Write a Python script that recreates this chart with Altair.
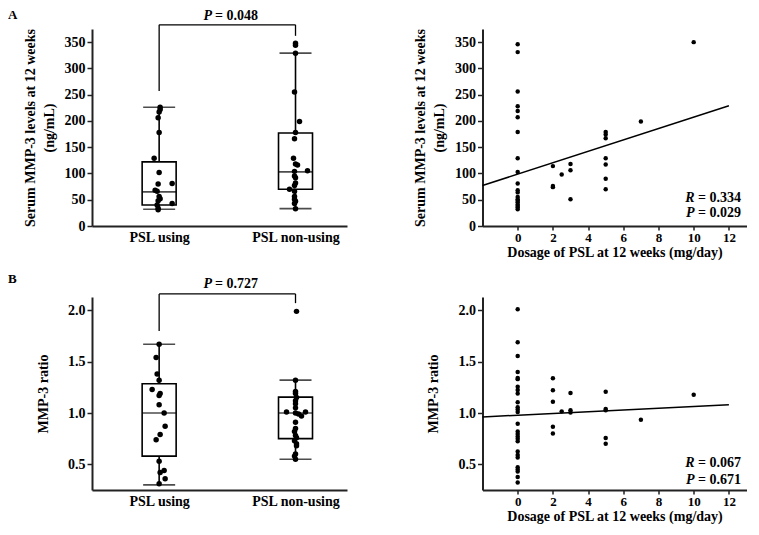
import altair as alt
import pandas as pd

FONT = "Liberation Serif"
groups = ["PSL using", "PSL non-using"]

# ---------- Panel A (box plot): serum MMP-3 at 12 weeks ----------
a_using = [226, 222, 217, 206, 178, 129, 102, 81, 80, 68, 66, 56, 52, 48, 43, 40, 34, 31]
a_using_dx = [1, 1, 0, -1, 0, -5, 0, 13, -1, -4, -2, 0, 1, -1, 13, -2, -1, -1]
a_nonusing = [348, 344, 329, 255, 199, 178, 166, 129, 118, 116, 105, 104, 95, 92, 82, 77, 70, 66, 56, 51, 47, 43, 33]
a_nonusing_dx = [0, 0, 0, -1, 4, 0, -1, -2, 0, 2, 12, -1, -1, 0, 0, -1, -6, -1, -1, -1, 0, -1, 0]
a_lo = [32, 33]
a_q1 = [40, 70]
a_med = [65, 103]
a_q3 = [122, 177]
a_hi = [226, 329]
a_bracket_low = [257, 362]
a_bracket_top = [383, 383]

# ---------- Panel A (scatter): dose vs serum MMP-3 ----------
a_dose = [0, 0, 0, 0, 0, 0, 0, 0, 0, 0, 0, 0, 0, 0, 0, 0, 0, 0, 0, 0,
          2, 2, 2, 2.5, 3, 3, 3, 5, 5, 5, 5, 5, 5, 5, 7, 10]
a_mmp = [346, 331, 256, 228, 219, 207, 179, 129, 103, 81, 68, 64, 55, 51, 48, 45, 41, 38, 35, 32,
         114, 76, 74, 98, 118, 106, 51, 179, 174, 167, 129, 117, 90, 70, 199, 350]
line_x = [-2, 12]
a_line_y = [77, 229]

# ---------- Panel B (box plot): MMP-3 ratio ----------
b_using = [1.67, 1.54, 1.38, 1.32, 1.23, 1.19, 1.17, 1.08, 1.00, 0.87, 0.79, 0.74, 0.53, 0.44, 0.42, 0.36, 0.31]
b_using_dx = [0, -3, -2, 0, -7, 1, 0, 0, 5, 6, 1, -3, 0, 5, 1, 6, 0]
b_nonusing = [1.99, 1.32, 1.21, 1.19, 1.15, 1.12, 1.09, 1.05, 1.01, 1.01, 1.00, 0.99, 0.97, 0.91, 0.85, 0.82, 0.78, 0.76, 0.73, 0.70, 0.68, 0.60, 0.58, 0.55]
b_nonusing_dx = [1, 0, 0, 0, 1, 0, 0, 0, -9, 10, 0, 3, 6, 0, 0, -1, 0, 1, -1, 1, 1, 0, -1, 0]
b_lo = [0.30, 0.55]
b_q1 = [0.58, 0.75]
b_med = [1.00, 1.00]
b_q3 = [1.285, 1.155]
b_hi = [1.67, 1.32]
b_bracket_low = [1.80, 2.07]
b_bracket_top = [2.16, 2.16]

# ---------- Panel B (scatter): dose vs MMP-3 ratio ----------
b_dose = [0] * 27 + [2, 2, 2, 2, 2, 2.5, 3, 3, 3, 5, 5, 5, 5, 5, 7, 10]
b_ratio = [2.01, 1.69, 1.555, 1.40, 1.34, 1.33, 1.256, 1.225, 1.19, 1.105, 1.057, 1.035, 1.01, 0.896,
           0.82, 0.795, 0.772, 0.75, 0.725, 0.624, 0.592, 0.567, 0.472, 0.45, 0.43, 0.377, 0.323,
           1.339, 1.222, 1.11, 0.867, 0.80, 1.016, 1.194, 1.026, 1.004, 1.206, 1.04, 1.026, 0.757, 0.70,
           0.934, 1.178]
b_line_y = [0.962, 1.08]

LEFT_W = 255
RIGHT_W = 264
A_H = 197
B_H = 193


def one():
    return pd.DataFrame({"k": [0]})


def y_axis(y_ticks, y_fmt, y_title, title_x, height):
    multi = isinstance(y_title, list)
    return alt.Axis(values=y_ticks, format=y_fmt, title=y_title, titleX=title_x, titleY=height / 2,
                    titleAngle=270, titleBaseline="top" if multi else "bottom", titleLineHeight=19,
                    titleAlign="center", tickSize=5, labelPadding=2, labelFontSize=14)


def box_panel(using, using_dx, nonusing, nonusing_dx, lo, q1, med, q3, hi,
              br_low, br_top, y_domain, y_ticks, y_fmt, y_title, title_x, height,
              letter, letter_y, p_text, p_y):
    pts = pd.DataFrame({
        "group": [groups[0]] * len(using) + [groups[1]] * len(nonusing),
        "value": using + nonusing,
        "dx": using_dx + nonusing_dx,
    })
    st = pd.DataFrame({"group": groups, "lo": lo, "q1": q1, "med": med, "q3": q3, "hi": hi})
    br = pd.DataFrame({"group": groups, "low": br_low, "top": br_top})

    xs = alt.Scale(type="point", domain=groups, padding=0.435, align=0.566)
    xa = alt.Axis(title=None, ticks=False, labelAngle=0, labelFontSize=14, labelPadding=4)
    ys = alt.Scale(domain=y_domain, nice=False, zero=False)
    ya = y_axis(y_ticks, y_fmt, y_title, title_x, height)

    def X():
        return alt.X("group:N", scale=xs, axis=xa, sort=groups)

    def Y(f):
        return alt.Y(f + ":Q", scale=ys, axis=ya)

    whisk = alt.Chart(st).mark_rule(color="black", strokeWidth=1.6).encode(x=X(), y=Y("lo"), y2="hi:Q")
    box = alt.Chart(st).mark_bar(size=34, fill="white", stroke="black", strokeWidth=1.6).encode(
        x=X(), y=Y("q1"), y2="q3:Q")
    median = alt.Chart(st).mark_tick(size=34, thickness=1.6, color="black").encode(x=X(), y=Y("med"))
    cap_lo = alt.Chart(st).mark_tick(size=32, thickness=1.6, color="black").encode(x=X(), y=Y("lo"))
    cap_hi = alt.Chart(st).mark_tick(size=32, thickness=1.6, color="black").encode(x=X(), y=Y("hi"))
    points = alt.Chart(pts).mark_circle(size=30, color="black", opacity=1).encode(
        x=X(), xOffset=alt.XOffset("dx:Q", scale=None), y=Y("value"))
    br_v = alt.Chart(br).mark_rule(color="black", strokeWidth=1.3).encode(x=X(), y=Y("low"), y2="top:Q")
    br_h = alt.Chart(br).mark_line(color="black", strokeWidth=1.3).encode(x=X(), y=Y("top"))
    lab = alt.Chart(one()).mark_text(text=letter, align="left", baseline="top", fontSize=13,
                                     fontWeight="bold", font=FONT, color="black").encode(
        x=alt.value(-84), y=alt.value(letter_y))
    p1 = alt.Chart(one()).mark_text(text="P", align="right", baseline="alphabetic", fontSize=14,
                                    fontWeight="bold", fontStyle="italic", font=FONT, color="black").encode(
        x=alt.value(120), y=alt.value(p_y))
    p2 = alt.Chart(one()).mark_text(text=p_text, align="left", baseline="alphabetic", fontSize=14,
                                    fontWeight="bold", font=FONT, color="black").encode(
        x=alt.value(123), y=alt.value(p_y))
    return alt.layer(whisk, box, median, cap_lo, cap_hi, points, br_v, br_h, lab, p1, p2).properties(
        width=LEFT_W, height=height)


def scatter_panel(dose, vals, line_y, y_domain, y_ticks, y_fmt, y_title, title_x, height,
                  r_text, p_text, r_y, p_y):
    pts = pd.DataFrame({"dose": dose, "value": vals})
    ln = pd.DataFrame({"dose": line_x, "value": line_y})
    xs = alt.Scale(domain=[-2, 13], nice=False, zero=False)
    xa = alt.Axis(values=[0, 2, 4, 6, 8, 10, 12], title="Dosage of PSL at 12 weeks (mg/day)",
                  tickSize=4, labelPadding=1, titlePadding=1, titleFontSize=14, labelFontSize=13)
    ys = alt.Scale(domain=y_domain, nice=False, zero=False)
    ya = y_axis(y_ticks, y_fmt, y_title, title_x, height)

    def X():
        return alt.X("dose:Q", scale=xs, axis=xa)

    def Y():
        return alt.Y("value:Q", scale=ys, axis=ya)

    dots = alt.Chart(pts).mark_circle(size=20, color="black", opacity=1).encode(x=X(), y=Y())
    line = alt.Chart(ln).mark_line(color="black", strokeWidth=1.5).encode(x=X(), y=Y())
    ann = pd.DataFrame({"x1": [10.05, 10.05], "x2": [10.25, 10.25], "y": [r_y, p_y],
                        "lab": ["R", "P"], "txt": [r_text, p_text]})
    t1 = alt.Chart(ann).mark_text(align="right", baseline="alphabetic", fontSize=14, fontWeight="bold",
                                  fontStyle="italic", font=FONT, color="black").encode(
        x=alt.X("x1:Q", scale=xs, axis=xa), y=alt.Y("y:Q", scale=ys, axis=ya), text="lab:N")
    t2 = alt.Chart(ann).mark_text(align="left", baseline="alphabetic", fontSize=14, fontWeight="bold",
                                  font=FONT, color="black").encode(
        x=alt.X("x2:Q", scale=xs, axis=xa), y=alt.Y("y:Q", scale=ys, axis=ya), text="txt:N")
    return alt.layer(dots, line, t1, t2).properties(width=RIGHT_W, height=height)


a_title = ["Serum MMP-3 levels at 12 weeks", "(ng/mL)"]
a_ticks = [0, 50, 100, 150, 200, 250, 300, 350]
b_ticks = [0.5, 1.0, 1.5, 2.0]

aL = box_panel(a_using, a_using_dx, a_nonusing, a_nonusing_dx, a_lo, a_q1, a_med, a_q3, a_hi,
               a_bracket_low, a_bracket_top, [0, 375], a_ticks, "d", a_title, -69, A_H,
               "A", -20.3, "= 0.048", -9.3)
aR = scatter_panel(a_dose, a_mmp, a_line_y, [0, 375], a_ticks, "d", a_title, -69, A_H,
                   "= 0.334", "= 0.029", 44.8, 16.5)
bL = box_panel(b_using, b_using_dx, b_nonusing, b_nonusing_dx, b_lo, b_q1, b_med, b_q3, b_hi,
               b_bracket_low, b_bracket_top, [0.25, 2.13], b_ticks, ".1f", "MMP-3 ratio", -42, B_H,
               "B", -24, "= 0.727", -9)
bR = scatter_panel(b_dose, b_ratio, b_line_y, [0.25, 2.13], b_ticks, ".1f", "MMP-3 ratio", -42, B_H,
                   "= 0.067", "= 0.671", 0.475, 0.313)

chart = alt.concat(aL, aR, bL, bR, columns=2).properties(
    spacing={"row": 71, "column": 135.5}, bounds="flush",
    padding={"left": 0, "top": 0, "right": 0, "bottom": 3}
).resolve_scale(x="independent", y="independent").configure_view(stroke=None).configure_axis(
    labelFont=FONT, titleFont=FONT, labelFontWeight="bold", titleFontWeight="bold",
    labelColor="black", titleColor="black", labelFontSize=13, titleFontSize=14,
    domainColor="#222", domainWidth=2, tickColor="#222", tickWidth=1.5, grid=False
)

chart.save("out.html", embed_options={"renderer": "svg", "actions": False})
